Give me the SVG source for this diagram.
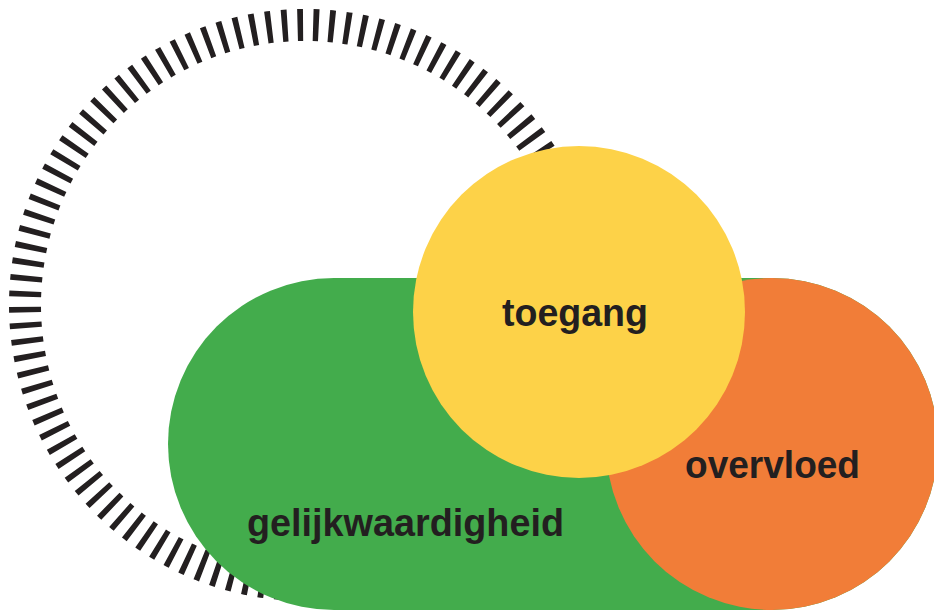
<svg xmlns="http://www.w3.org/2000/svg" width="934" height="611" viewBox="0 0 934 611">
  <style>
    .lbl { font-family: "Liberation Sans", Arial, sans-serif; font-weight: bold; font-size: 38px; fill: #231F20; }
    .ring { fill: none; stroke: #231F20; stroke-width: 32; stroke-dasharray: 5.6 10.1; }
  </style>
  <rect width="934" height="611" fill="#ffffff"/>
  <g id="ring">
    <circle class="ring" cx="305" cy="305" r="280" transform="rotate(-1.5 305 305)"/>
  </g>
  <g id="gelijkwaardigheid">
    <rect x="168" y="278" width="770" height="332" rx="166" ry="166" fill="#43AC4C"/>
  </g>
  <g id="overvloed">
    <circle cx="772" cy="444" r="166" fill="#F17D38"/>
  </g>
  <g id="toegang">
    <circle cx="579" cy="312" r="166" fill="#FDD248"/>
  </g>
  <g id="labels">
    <text class="lbl" x="502" y="326" textLength="146" lengthAdjust="spacingAndGlyphs">toegang</text>
    <text class="lbl" x="247" y="536" textLength="317" lengthAdjust="spacingAndGlyphs">gelijkwaardigheid</text>
    <text class="lbl" x="685" y="478" textLength="175" lengthAdjust="spacingAndGlyphs">overvloed</text>
  </g>
  <g id="connectors"/>
</svg>
